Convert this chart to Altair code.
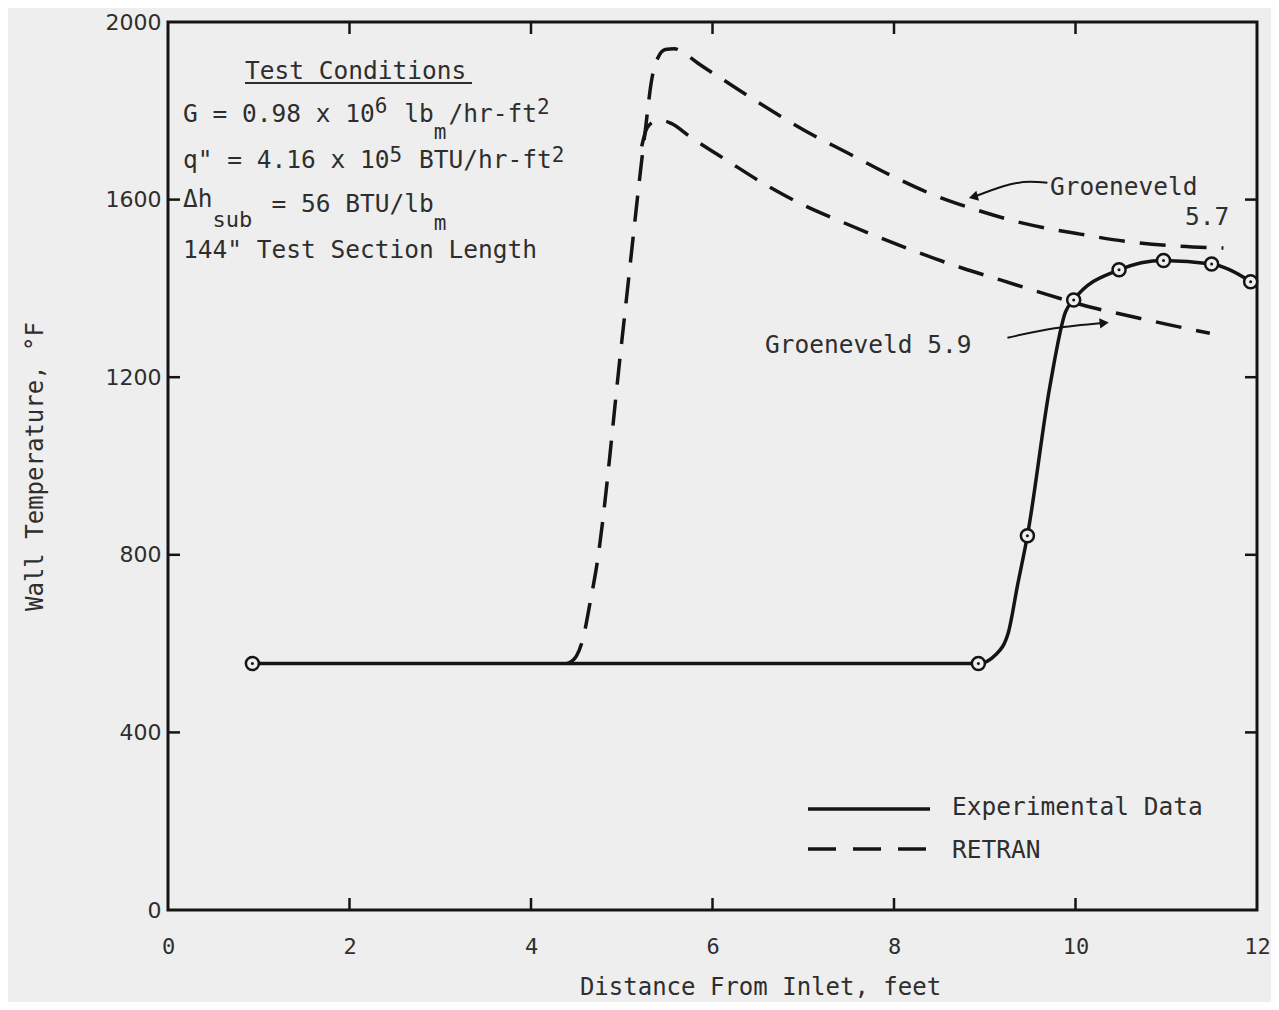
import altair as alt
import pandas as pd

# ---------------- data ----------------
# Experimental data: measured points (open circles)
exp_pts_x = [0.93, 8.93, 9.47, 9.98, 10.48, 10.97, 11.50, 11.93]
exp_pts_y = [555, 555, 843, 1374, 1442, 1463, 1455, 1415]
# Experimental data: drawn curve through the points
exp_line_x = [0.93, 8.93, 9.12, 9.26, 9.36, 9.47, 9.72, 9.89, 9.98, 10.48, 10.97, 11.50, 11.93, 12.0]
exp_line_y = [555, 555, 575, 625, 730, 843, 1182, 1347, 1374, 1442, 1463, 1455, 1415, 1405]

# RETRAN, Groeneveld 5.7 (upper dashed curve, includes common rise)
g57_x = [4.40, 4.50, 4.57, 4.65, 4.72, 5.00, 5.26, 5.33, 5.40, 5.48, 5.58, 5.67, 5.84,
         6.14, 6.55, 7.02, 7.48, 7.96, 8.43, 8.89, 9.42, 10.03, 10.63, 11.15, 11.63]
g57_y = [555, 572, 609, 691, 770, 1280, 1757, 1870, 1920, 1938, 1940, 1932, 1907,
         1867, 1813, 1755, 1706, 1655, 1611, 1578, 1547, 1523, 1504, 1495, 1491]
# RETRAN, Groeneveld 5.9 (lower dashed curve, branching off the rise)
g59_x = [5.22, 5.28, 5.37, 5.46, 5.55, 5.75, 6.16, 6.63, 7.02, 7.40, 8.75, 9.19, 9.61,
         10.24, 10.57, 11.01, 11.48]
g59_y = [1720, 1762, 1776, 1777, 1771, 1742, 1688, 1628, 1586, 1552, 1446, 1418, 1391,
         1354, 1339, 1319, 1299]

# annotation arrows (data coordinates)
arrow57_x = [8.89, 9.50, 9.69]
arrow57_y = [1607, 1640, 1638]
arrow59_x = [9.25, 9.77, 10.30]
arrow59_y = [1289, 1310, 1322]

x_tick_labels = [0, 2, 4, 6, 8, 10, 12]
y_tick_labels = [0, 400, 800, 1200, 1600, 2000]
x_inner_ticks = [2, 4, 6, 8, 10]
y_inner_ticks = [400, 800, 1200, 1600]

# ---------------- styling ----------------
W, H = 1089, 888
BG = "#eeeeee"
INK = "#141414"
TXT = "#2e2e2e"
MONO = "DejaVu Sans Mono"

xs = alt.Scale(domain=[0, 12], nice=False, zero=False)
ys = alt.Scale(domain=[0, 2000], nice=False, zero=False)

x_axis = alt.Axis(values=x_tick_labels, format="d", ticks=False, domain=False, grid=False,
                  labelFont=MONO, labelFontSize=22, labelPadding=26, labelColor=TXT,
                  labelFlush=False, labelOverlap=False,
                  title="Distance From Inlet, feet", titleFont=MONO, titleFontSize=24,
                  titleFontWeight="normal", titleColor=TXT, titleX=592, titleY=77,
                  titleBaseline="middle", titleAlign="center")
y_axis = alt.Axis(values=y_tick_labels, format="d", ticks=False, domain=False, grid=False,
                  labelFont="DejaVu Sans", labelFontSize=22, labelPadding=7, labelColor=TXT,
                  labelFlush=False, labelOverlap=False,
                  title="Wall Temperature, °F", titleFont=MONO, titleFontSize=24,
                  titleFontWeight="normal", titleColor=TXT, titleAngle=270,
                  titleX=-133, titleY=444, titleBaseline="middle", titleAlign="center")

X = alt.X("x:Q", scale=xs, axis=x_axis)
Y = alt.Y("y:Q", scale=ys, axis=y_axis)

one = pd.DataFrame({"a": [0]})

layers = []

# experimental curve
layers.append(alt.Chart(pd.DataFrame({"x": exp_line_x, "y": exp_line_y}))
              .mark_line(color=INK, strokeWidth=3.5, interpolate="monotone", clip=True)
              .encode(x=X, y=Y))
# RETRAN curves
dash = [26, 15]
layers.append(alt.Chart(pd.DataFrame({"x": g57_x, "y": g57_y}))
              .mark_line(color=INK, strokeWidth=3.5, strokeDash=dash, interpolate="monotone")
              .encode(x=X, y=Y))
layers.append(alt.Chart(pd.DataFrame({"x": g59_x, "y": g59_y}))
              .mark_line(color=INK, strokeWidth=3.5, strokeDash=dash, interpolate="monotone")
              .encode(x=X, y=Y))
# markers
pts = pd.DataFrame({"x": exp_pts_x, "y": exp_pts_y})
layers.append(alt.Chart(pts).mark_point(shape="circle", filled=True, fill=BG, stroke=INK,
                                        strokeWidth=2.5, size=170, opacity=1)
              .encode(x=X, y=Y))
layers.append(alt.Chart(pts).mark_circle(size=9, color=INK, opacity=1).encode(x=X, y=Y))

# arrows
layers.append(alt.Chart(pd.DataFrame({"x": arrow57_x, "y": arrow57_y}))
              .mark_line(color=INK, strokeWidth=2, interpolate="monotone").encode(x=X, y=Y))
layers.append(alt.Chart(pd.DataFrame({"x": arrow57_x[:1], "y": arrow57_y[:1]}))
              .mark_point(shape="triangle", filled=True, color=INK, size=110, angle=255, opacity=1)
              .encode(x=X, y=Y))
layers.append(alt.Chart(pd.DataFrame({"x": arrow59_x, "y": arrow59_y}))
              .mark_line(color=INK, strokeWidth=2, interpolate="monotone").encode(x=X, y=Y))
layers.append(alt.Chart(pd.DataFrame({"x": arrow59_x[-1:], "y": arrow59_y[-1:]}))
              .mark_point(shape="triangle", filled=True, color=INK, size=110, angle=84, opacity=1)
              .encode(x=X, y=Y))

# inward ticks
xt = pd.DataFrame({"x": x_inner_ticks})
yt = pd.DataFrame({"y": y_inner_ticks})
layers.append(alt.Chart(xt).mark_rule(color=INK, strokeWidth=2.5)
              .encode(x=X, y=alt.value(H), y2=alt.value(H - 12)))
layers.append(alt.Chart(xt).mark_rule(color=INK, strokeWidth=2.5)
              .encode(x=X, y=alt.value(0), y2=alt.value(12)))
layers.append(alt.Chart(yt).mark_rule(color=INK, strokeWidth=2.5)
              .encode(y=Y, x=alt.value(0), x2=alt.value(12)))
layers.append(alt.Chart(yt).mark_rule(color=INK, strokeWidth=2.5)
              .encode(y=Y, x=alt.value(W), x2=alt.value(W - 12)))

# ---------------- annotation text ----------------
ADV = 14.75
X0 = 15
def cx(i):
    return X0 + ADV * i

MAIN, SUP = 24.5, 21
texts = [
    ("Test Conditions", 77, 57, MAIN),
    ("G = 0.98 x 10", cx(0), 100, MAIN),
    ("6", cx(13), 91, SUP),
    ("lb", cx(15), 100, MAIN),
    ("m", cx(17), 117, SUP),
    ("/hr-ft", cx(18), 100, MAIN),
    ("2", cx(24), 92, SUP),
    ('q" = 4.16 x 10', cx(0), 146, MAIN),
    ("5", cx(14), 140, SUP),
    ("BTU/hr-ft", cx(16), 146, MAIN),
    ("2", cx(25), 140, SUP),
    ("Δh", cx(0), 185, MAIN),
    ("sub", cx(2), 205, 22),
    ("= 56 BTU/lb", cx(6), 190, MAIN),
    ("m", cx(17), 208, SUP),
    ('144" Test Section Length', cx(0), 236, MAIN),
    ("Groeneveld", 882, 173, MAIN),
    ("5.7", 1017, 203, MAIN),
    ("Groeneveld 5.9", 597, 331, MAIN),
    ("Experimental Data", 784, 793, MAIN),
    ("RETRAN", 784, 836, MAIN),
]
for t, px, py, fs in texts:
    layers.append(alt.Chart(one).mark_text(text=t, align="left", baseline="alphabetic",
                                           font=MONO, fontSize=fs, color=TXT)
                  .encode(x=alt.value(px), y=alt.value(py)))

# underline of "Test Conditions"
layers.append(alt.Chart(one).mark_rule(color=TXT, strokeWidth=2)
              .encode(x=alt.value(77), x2=alt.value(304), y=alt.value(61)))
# legend samples
layers.append(alt.Chart(one).mark_rule(color=INK, strokeWidth=3.5)
              .encode(x=alt.value(640), x2=alt.value(762), y=alt.value(787)))
layers.append(alt.Chart(one).mark_rule(color=INK, strokeWidth=3.5, strokeDash=[28, 17])
              .encode(x=alt.value(640), x2=alt.value(766), y=alt.value(827)))

chart = (alt.layer(*layers)
         .properties(width=W, height=H,
                     autosize=alt.AutoSizeParams(type="none"),
                     padding={"left": 160, "top": 14, "right": 14, "bottom": 92},
                     background=BG)
         .configure_view(stroke=INK, strokeWidth=3))

chart.save("out.html", embed_options={"renderer": "svg", "actions": False})
